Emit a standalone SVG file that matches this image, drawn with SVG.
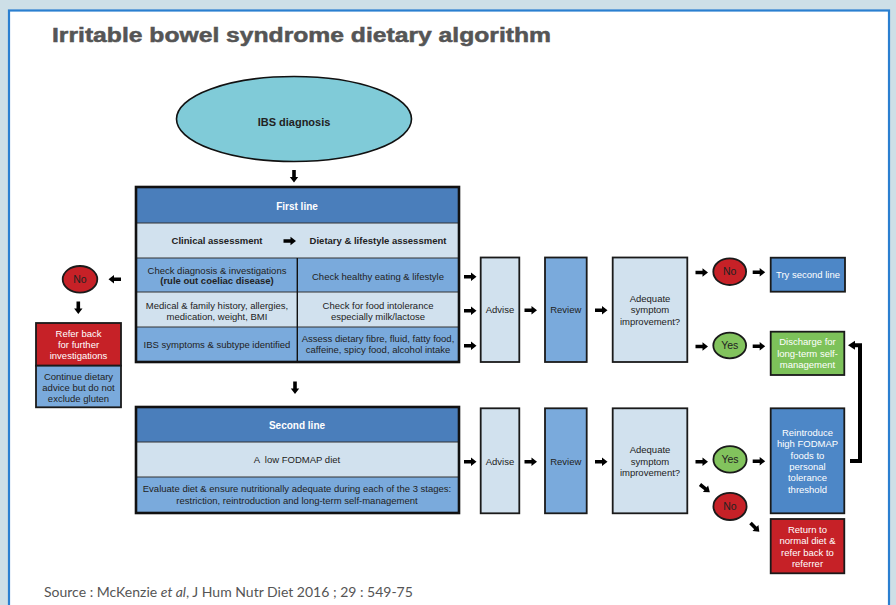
<svg xmlns="http://www.w3.org/2000/svg" xmlns:xlink="http://www.w3.org/1999/xlink" width="896" height="605" viewBox="0 0 896 605">
<style>
text{font-family:"Liberation Sans",Arial,sans-serif;font-size:9.5px;fill:#222;text-anchor:middle}
.b{font-weight:bold}
.w{fill:#fff}
.hdr{fill:#4a7ebb}
.mid{fill:#7aaadc}
.lt{fill:#d1e1ee}
.red{fill:#c62127}
.box{stroke:#1a1a1a;stroke-width:1.8}
.tbl{fill:none;stroke:#111;stroke-width:2.6}
.sep{stroke:#333;stroke-width:1}
.lbl{font-size:10.5px}
</style>
<defs>
<path id="ar" d="M0,-1.8 H7 V-4.2 L12.5,0 L7,4.2 V1.8 H0 Z" fill="#000"/>
</defs>
<rect x="0" y="0" width="896" height="605" fill="#cddfe7"/>
<rect x="9" y="10.5" width="880" height="620" fill="#fff" stroke="#2a7fd0" stroke-width="2.2"/>
<text x="52" y="42" style="font-size:20px;font-weight:bold;fill:#555;stroke:#555;stroke-width:0.5;text-anchor:start" textLength="499" lengthAdjust="spacingAndGlyphs">Irritable bowel syndrome dietary algorithm</text>

<g id="ibs-diagnosis">
<ellipse cx="294" cy="119" rx="117.5" ry="42.5" fill="#80cbd8" stroke="#111" stroke-width="1.6"/>
<text x="294" y="126" class="b" style="font-size:11px">IBS diagnosis</text>
</g>

<g id="first-line">
<rect x="136" y="187" width="323" height="36" class="hdr"/>
<rect x="136" y="223" width="323" height="35" class="lt"/>
<rect x="136" y="258" width="323" height="34" class="mid"/>
<rect x="136" y="292" width="323" height="35" class="lt"/>
<rect x="136" y="327" width="323" height="35" class="mid"/>
<line x1="136" y1="223" x2="459" y2="223" class="sep"/>
<line x1="136" y1="258" x2="459" y2="258" class="sep"/>
<line x1="136" y1="292" x2="459" y2="292" class="sep"/>
<line x1="136" y1="327" x2="459" y2="327" class="sep"/>
<line x1="297.3" y1="258" x2="297.3" y2="362" stroke="#111" stroke-width="1.4"/>
<rect x="136" y="187" width="323" height="175" class="tbl"/>
<text x="297" y="209.5" class="b w" style="font-size:10px">First line</text>
<text x="217" y="244.4" class="b">Clinical assessment</text>
<text x="378" y="244.4" class="b">Dietary &amp; lifestyle assessment</text>
<text x="217" y="273.5">Check diagnosis &amp; investigations</text>
<text x="217" y="284.2" class="b">(rule out coeliac disease)</text>
<text x="378" y="279.5">Check healthy eating &amp; lifestyle</text>
<text x="217" y="308.5">Medical &amp; family history, allergies,</text>
<text x="217" y="319.6">medication, weight, BMI</text>
<text x="378" y="308.5">Check for food intolerance</text>
<text x="378" y="319.6">especially milk/lactose</text>
<text x="217" y="348">IBS symptoms &amp; subtype identified</text>
<text x="378" y="342">Assess dietary fibre, fluid, fatty food,</text>
<text x="378" y="353">caffeine, spicy food, alcohol intake</text>
</g>

<g id="no-left">
<ellipse cx="80" cy="279.3" rx="17.3" ry="13.3" class="red box" stroke-width="1.4"/>
<text x="80" y="283" class="lbl">No</text>
</g>
<g id="refer-back">
<rect x="36" y="323" width="85" height="42.7" class="red box"/>
<text x="78.5" y="336.8" class="w">Refer back</text>
<text x="78.5" y="348.3" class="w">for further</text>
<text x="78.5" y="359.4" class="w">investigations</text>
</g>
<g id="continue-dietary">
<rect x="36" y="365.7" width="85" height="41.6" class="mid box"/>
<text x="78.5" y="379.7">Continue dietary</text>
<text x="78.5" y="391">advice but do not</text>
<text x="78.5" y="401.7">exclude gluten</text>
</g>

<g id="advise-1"><rect x="480.7" y="257.5" width="38.6" height="104.5" class="lt box"/><text x="500" y="313.4">Advise</text></g>
<g id="review-1"><rect x="545" y="257.5" width="41.7" height="104.5" class="mid box"/><text x="565.8" y="313.4">Review</text></g>
<g id="adequate-1"><rect x="612.7" y="257.5" width="74.6" height="104.5" class="lt box"/>
<text x="650" y="302">Adequate</text><text x="650" y="313.4">symptom</text><text x="650" y="324.7">improvement?</text></g>
<g id="no-1"><ellipse cx="729.7" cy="271.7" rx="16.4" ry="13.3" class="red box" stroke-width="1.4"/><text x="729.7" y="275.4" class="lbl">No</text></g>
<g id="try-second-line"><rect x="770.7" y="257.7" width="74.3" height="34" fill="#4d87c7" class="box"/><text x="808" y="278.4" class="w">Try second line</text></g>
<g id="yes-1"><ellipse cx="729.7" cy="345.5" rx="16.4" ry="12.8" fill="#82c35d" class="box" stroke-width="1.4"/><text x="729.7" y="349.2" class="lbl">Yes</text></g>
<g id="discharge"><rect x="770.7" y="331.7" width="73.6" height="43.3" fill="#7dc25a" class="box"/>
<text x="807.5" y="345" class="w">Discharge for</text><text x="807.5" y="356.6" class="w">long-term self-</text><text x="807.5" y="368.3" class="w">management</text></g>

<g id="second-line">
<rect x="136" y="407" width="323" height="35" class="hdr"/>
<rect x="136" y="442" width="323" height="35" class="lt"/>
<rect x="136" y="477" width="323" height="36" class="mid"/>
<line x1="136" y1="442" x2="459" y2="442" class="sep"/>
<line x1="136" y1="477" x2="459" y2="477" class="sep"/>
<rect x="136" y="407" width="323" height="106" class="tbl"/>
<text x="297" y="428.6" class="b w" style="font-size:10px">Second line</text>
<text x="297" y="463.4" style="white-space:pre">A  low FODMAP diet</text>
<text x="297" y="492.4">Evaluate diet &amp; ensure nutritionally adequate during each of the 3 stages:</text>
<text x="297" y="503.7">restriction, reintroduction and long-term self-management</text>
</g>

<g id="advise-2"><rect x="480.7" y="408.3" width="38.6" height="105" class="lt box"/><text x="500" y="465">Advise</text></g>
<g id="review-2"><rect x="545" y="408.3" width="41.7" height="105" class="mid box"/><text x="565.8" y="465">Review</text></g>
<g id="adequate-2"><rect x="612.7" y="408.3" width="74.6" height="105" class="lt box"/>
<text x="650" y="453.4">Adequate</text><text x="650" y="465">symptom</text><text x="650" y="476">improvement?</text></g>
<g id="yes-2"><ellipse cx="730" cy="459.4" rx="16.6" ry="13.3" fill="#82c35d" class="box" stroke-width="1.4"/><text x="730" y="463" class="lbl">Yes</text></g>
<g id="no-2"><ellipse cx="730" cy="506.4" rx="16.6" ry="13.6" class="red box" stroke-width="1.4"/><text x="730" y="510" class="lbl">No</text></g>
<g id="reintroduce"><rect x="770.7" y="408.3" width="73.6" height="105" fill="#4d87c7" class="box"/>
<text x="807.5" y="436" class="w">Reintroduce</text><text x="807.5" y="447.3" class="w">high FODMAP</text><text x="807.5" y="459" class="w">foods to</text><text x="807.5" y="470.3" class="w">personal</text><text x="807.5" y="481.3" class="w">tolerance</text><text x="807.5" y="492.6" class="w">threshold</text></g>
<g id="return-normal"><rect x="770.7" y="519" width="73.6" height="54.3" class="red box"/>
<text x="807.5" y="533.3" class="w">Return to</text><text x="807.5" y="544.3" class="w">normal diet &amp;</text><text x="807.5" y="556" class="w">refer back to</text><text x="807.5" y="566.6" class="w">referrer</text></g>

<g id="connectors">
<use href="#ar" transform="translate(294,170) rotate(90)"/>
<use href="#ar" transform="translate(295,381.5) rotate(90)"/>
<use href="#ar" transform="translate(78.3,301.5) rotate(90)"/>
<use href="#ar" transform="translate(121,279.3) rotate(180)"/>
<use href="#ar" transform="translate(283.5,241)"/>
<use href="#ar" transform="translate(464,276.7)"/>
<use href="#ar" transform="translate(464,310.7)"/>
<use href="#ar" transform="translate(464,345.7)"/>
<use href="#ar" transform="translate(524.5,310.3)"/>
<use href="#ar" transform="translate(595,310.3)"/>
<use href="#ar" transform="translate(695.5,272.5)"/>
<use href="#ar" transform="translate(752.7,272.3)"/>
<use href="#ar" transform="translate(695.5,346.5)"/>
<use href="#ar" transform="translate(752.7,346.3)"/>
<use href="#ar" transform="translate(464,461.7)"/>
<use href="#ar" transform="translate(524.5,461.7)"/>
<use href="#ar" transform="translate(595,461.7)"/>
<use href="#ar" transform="translate(695.5,461.7)"/>
<use href="#ar" transform="translate(752.7,461.2)"/>
<use href="#ar" transform="translate(700,484.5) rotate(38)"/>
<use href="#ar" transform="translate(750.5,523) rotate(45)"/>
<polyline points="850,461 860,461 860,345.3 854,345.3" fill="none" stroke="#000" stroke-width="4"/>
<polygon points="848,345.3 855,340.8 855,349.8" fill="#000"/>
</g>

<text x="44" y="596.5" style="font-family:Lato,'Open Sans',sans-serif;font-size:14px;fill:#555;text-anchor:start">Source : McKenzie <tspan font-style="italic">et al</tspan>, J Hum Nutr Diet 2016 ; 29 : 549-75</text>
</svg>
